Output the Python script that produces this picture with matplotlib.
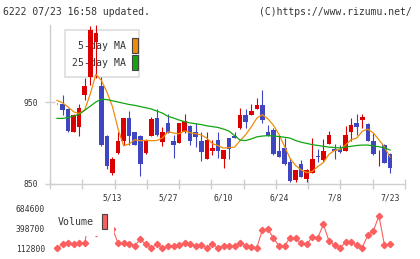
import matplotlib
matplotlib.use("Agg")
import matplotlib.pyplot as plt
from matplotlib.patches import Rectangle
import numpy as np
import pandas as pd

# ---------------- data ----------------
date_labels = ["5/13", "5/27", "6/10", "6/24", "7/8", "7/23"]
label_index = [10, 20, 30, 40, 50, 60]

opens = [947.5, 948, 942, 914, 919, 958, 980, 1023, 970, 909,
         863.4, 888, 902, 930.5, 913, 909, 888, 909, 930.5, 901,
         925, 902, 900.5, 913, 920.3, 913.4, 902, 881, 890.6, 904,
         881, 906, 909, 918, 934.5, 934.5, 941.5, 946.7, 914, 916,
         890.6, 894, 876.3, 854.4, 874.8, 856.5, 863.4, 884.5, 879.6, 899,
         893, 893, 889.8, 913, 924.4, 927.6, 923.5, 902.8, 880, 898, 887]
closes = [948, 940, 915, 934.5, 942.7, 970, 1038, 1034, 897, 871.5,
          881, 903, 930.5, 908, 898, 875, 904, 929, 909.5, 913.4,
          912.5, 897, 924, 927, 902, 907.3, 889, 904, 894, 890,
          891.8, 892.7, 906.5, 934.5, 925.5, 938.5, 946.7, 927.5, 909, 886,
          883, 874, 853.2, 866.5, 858.5, 867.4, 881, 883.3, 890.6, 909.3,
          889.8, 888.6, 910, 922.3, 919.5, 931.2, 902, 886, 881, 875.6, 869.5]
highs = [948.5, 959, 942.5, 935, 947.6, 979, 1043, 1044, 980, 909.5,
         882.5, 914, 931, 939.4, 914, 910, 905, 931.7, 942, 919,
         935.5, 910, 925, 935, 922.5, 925, 914, 914, 904, 913,
         892, 906.5, 913, 942.7, 942, 947, 955, 965, 922, 918,
         908, 906, 881.7, 867, 878.8, 867.8, 906, 892.7, 905, 914.2,
         899, 898, 920.3, 930.5, 935.7, 935.7, 924, 912, 892, 898.5, 887.5]
lows = [947, 934.5, 913, 913, 908, 953, 971, 979, 896, 868.7,
        860.5, 887, 898, 898, 897, 859.5, 887, 908.5, 909, 896,
        912, 882, 900, 912, 897, 895.5, 877.6, 880.5, 885.7, 882,
        870, 880, 906, 917.4, 918, 934.5, 941, 924, 908, 885.7,
        882.5, 873.5, 852, 852, 858, 853, 863, 876.3, 878, 899,
        880.9, 888, 889.8, 902, 910, 918.3, 902, 885.7, 871.5, 875.5, 864]

# 5-day MA: first four values (earlier closes not shown)
ma5_head = [952, 949, 944, 938]
# 25-day MA
ma25 = [930, 930, 931, 933, 935, 940, 945, 950, 953.5, 953,
        951.5, 950, 948.5, 947, 946, 944.5, 943, 941.5, 939, 936.5,
        932.5, 930.5, 928, 926, 924.5, 923.5, 922.5, 921, 920, 919,
        917, 914.5, 909, 903.5, 903, 905, 907.5, 908.5, 909, 908.5,
        908, 907, 906, 903, 901, 899.5, 898, 897, 896, 895,
        894.5, 894, 895, 896, 897, 897.5, 897.5, 896.5, 895.5, 894, 891.5]

volumes = [112800, 171000, 185500, 171000, 185500, 185500, 684600, 330000, 600000, 450000, 400000,
           185500, 185500, 171000, 150600, 243800, 171000, 121500, 171000, 116000, 146300,
           146300, 160800, 185500, 171000, 150600, 155000, 121500, 171000, 121500, 150600,
           150600, 150600, 194300, 150600, 136100, 121500, 379000, 393600, 258300, 146300,
           146300, 267000, 258300, 185500, 171000, 281600, 267000, 462000, 219000, 160800,
           118000, 200000, 200000, 160800, 121500, 306300, 364500, 587000, 160800, 171000]

price_ticks = [850, 950]
vol_ticks = [112800, 398700, 684600]

# ---------------- style ----------------
RED = "#dd0000"
BLUE = "#3f46c0"
ORANGE = "#f08c0a"
GREEN = "#12a512"
VOLC = "#fb5f5f"
GRID = "#cfcfcf"
TXT = "#333333"
FONT = "DejaVu Sans Mono"

W, H = 420, 259
fig = plt.figure(figsize=(W / 100, H / 100), dpi=100)
fig.patch.set_facecolor("white")


def fx(px):
    return px / W


def fy(py):
    return 1 - py / H


ax = fig.add_axes([fx(50), fy(184), fx(405) - fx(50), fy(25) - fy(184)])
axv = fig.add_axes([fx(50), fy(248.3), fx(405) - fx(50), fy(209) - fy(248.3)])

o = np.array(opens)
c = np.array(closes)
hi = np.array(highs)
lo = np.array(lows)
x = np.arange(len(c))
colors = np.where(c >= o, RED, BLUE)

ax.vlines(x, lo, hi, colors=colors, lw=0.8, zorder=3)
raw_h = np.abs(c - o)
body_h = np.maximum(raw_h, 0.9)
body_b = np.minimum(o, c) - (body_h - raw_h) / 2
ax.bar(x, body_h, bottom=body_b, width=0.82, color=colors, linewidth=0, zorder=4)

ma5 = pd.Series(c).rolling(5).mean().to_numpy()
ma5[:4] = ma5_head
ax.plot(x, ma5, color=ORANGE, lw=0.9, zorder=5)
ax.plot(x, ma25, color=GREEN, lw=0.9, zorder=5)

xmin, xmax = -1.26, 62.7
ax.set_xlim(xmin, xmax)
ax.set_ylim(850, 1044)

for s in ["top", "right"]:
    ax.spines[s].set_visible(False)
for s in ["left", "bottom"]:
    ax.spines[s].set_color(GRID)
    ax.spines[s].set_linewidth(1.0)

ax.set_xticks(label_index)
ax.set_xticklabels(date_labels)
ax.set_xticks(np.linspace(xmin, xmax, 12), minor=True)
ax.tick_params(axis="x", which="major", length=0, pad=6.5, labelsize=5.8,
               labelcolor=TXT)
ax.tick_params(axis="x", which="minor", length=7, direction="inout",
               color=GRID, width=1.0)
ax.set_yticks(price_ticks)
ax.set_yticklabels([str(t) for t in price_ticks])
ax.tick_params(axis="y", length=7, direction="inout", color=GRID, width=1.0,
               labelsize=5.8, labelcolor=TXT, pad=5)
for lab in ax.get_xticklabels() + ax.get_yticklabels():
    lab.set_family(FONT)

# price legend (drawn behind candles)
ax.add_patch(Rectangle((fx(65), fy(77)), fx(139) - fx(65), fy(30) - fy(77),
                       transform=fig.transFigure, facecolor="white",
                       edgecolor="#dddddd", lw=1.2, zorder=1, clip_on=False))
ax.text(fx(126), fy(46), "5-day MA", transform=fig.transFigure, ha="right",
        va="center", fontsize=7.1, family=FONT, color=TXT, zorder=1.5)
ax.text(fx(126), fy(63), "25-day MA", transform=fig.transFigure, ha="right",
        va="center", fontsize=7.1, family=FONT, color=TXT, zorder=1.5)
ax.add_patch(Rectangle((fx(131.5), fy(52.5)), fx(137.5) - fx(131.5), fy(37.5) - fy(52.5),
                       transform=fig.transFigure, facecolor=ORANGE,
                       edgecolor="#444444", lw=0.8, zorder=1.5, clip_on=False))
ax.add_patch(Rectangle((fx(131.5), fy(69.5)), fx(137.5) - fx(131.5), fy(54.5) - fy(69.5),
                       transform=fig.transFigure, facecolor=GREEN,
                       edgecolor="#444444", lw=0.8, zorder=1.5, clip_on=False))

# volume panel
axv.plot(x, volumes, color=VOLC, lw=0.8, marker="D", ms=3.2, mec=VOLC,
         mfc=VOLC, clip_on=False, zorder=2)
axv.set_xlim(xmin, xmax)
axv.set_ylim(112800, 684600)
for s in axv.spines.values():
    s.set_visible(False)
axv.set_xticks([])
axv.set_yticks(vol_ticks)
axv.set_yticklabels([str(t) for t in vol_ticks])
axv.tick_params(axis="y", length=0, pad=3.6, labelsize=5.8, labelcolor=TXT)
for lab in axv.get_yticklabels():
    lab.set_family(FONT)

axv.add_patch(Rectangle((fx(54), fy(236)), fx(114) - fx(54), fy(204) - fy(236),
                        transform=fig.transFigure, facecolor="white",
                        edgecolor="none", zorder=6, clip_on=False))
axv.text(fx(58), fy(222), "Volume", transform=fig.transFigure, ha="left",
         va="center", fontsize=7.1, family=FONT, color=TXT, zorder=7)
axv.add_patch(Rectangle((fx(101.5), fy(229)), fx(107.5) - fx(101.5), fy(213.5) - fy(229),
                        transform=fig.transFigure, facecolor=VOLC,
                        edgecolor="#444444", lw=0.8, zorder=7, clip_on=False))

# header
fig.text(fx(3), fy(12), "6222 07/23 16:58 updated.", ha="left", va="center",
         fontsize=7.0, family=FONT, color=TXT)
fig.text(fx(412), fy(12), "(C)https://www.rizumu.net/", ha="right", va="center",
         fontsize=7.0, family=FONT, color=TXT)

fig.savefig("out.png", dpi=100, facecolor="white")
